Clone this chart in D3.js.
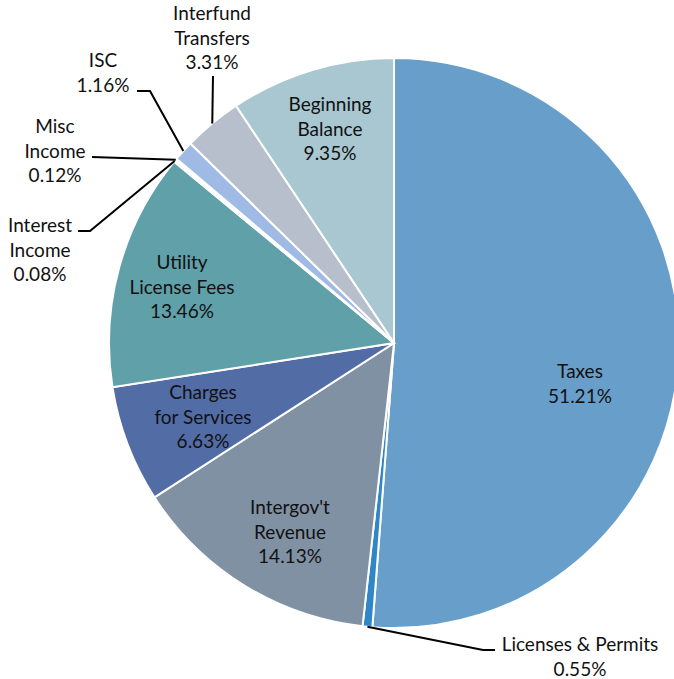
<!DOCTYPE html>
<html>
<head>
<meta charset="utf-8">
<script src="https://cdn.jsdelivr.net/npm/d3@7"></script>
<style>
  html, body { margin: 0; padding: 0; background: #fff; }
  svg { display: block; }
  text { font-family: Lato, "Open Sans", sans-serif; font-size: 19px; fill: #111; }
</style>
</head>
<body>
<div id="app"></div>
<script>
// slice names (clockwise from 12 o'clock), with shares in percent
const names = ["Taxes", "Licenses & Permits", "Intergov't Revenue", "Charges for Services",
  "Utility License Fees", "Interest Income", "Misc Income", "ISC", "Interfund Transfers", "Beginning Balance"];
const shares = [51.21, 0.55, 14.13, 6.63, 13.46, 0.08, 0.12, 1.16, 3.31, 9.35];
const colors = ["#689fca", "#2f86c8", "#8191a4", "#526ca6", "#5fa0a9", "#f2f2f2", "#f2f2f2",
  "#9fbae4", "#b8bfcc", "#a8c7d1"];

const width = 674, height = 679;
const cx = 394, cy = 343, radius = 285;

// label layout: lines of text, centre of first line, and leader bends
const labelLayout = {
  "Taxes":               { lines: ["Taxes"], x: 580, y: 373 },
  "Licenses & Permits":  { lines: ["Licenses & Permits"], x: 580, y: 646, leader: [[483, 650], [495, 650]] },
  "Intergov't Revenue":  { lines: ["Intergov't", "Revenue"], x: 290, y: 509 },
  "Charges for Services":{ lines: ["Charges", "for Services"], x: 203, y: 394 },
  "Utility License Fees":{ lines: ["Utility", "License Fees"], x: 182, y: 264 },
  "Interest Income":     { lines: ["Interest", "Income"], x: 40, y: 227, leader: [[90, 231], [78, 231]] },
  "Misc Income":         { lines: ["Misc", "Income"], x: 55, y: 128, leader: [[92, 157]] },
  "ISC":                 { lines: ["ISC"], x: 103, y: 62, leader: [[150, 91], [137, 91]] },
  "Interfund Transfers": { lines: ["Interfund", "Transfers"], x: 212, y: 15, leader: [[213, 76]] },
  "Beginning Balance":   { lines: ["Beginning", "Balance"], x: 330, y: 106 }
};
const lineGap = 24.5;

const data = names.map((n, i) => ({ name: n, value: shares[i], color: colors[i] }));

const svg = d3.select("#app").append("svg")
  .attr("width", width).attr("height", height);

const pie = d3.pie().sort(null).value(d => d.value);
const arc = d3.arc().innerRadius(0).outerRadius(radius);
const arcs = pie(data);

const g = svg.append("g").attr("transform", `translate(${cx},${cy})`);
g.selectAll("path")
  .data(arcs)
  .join("path")
    .attr("d", arc)
    .attr("fill", d => d.data.color)
    .attr("stroke", "#fff")
    .attr("stroke-width", 2);

// leader lines from the outer edge of small slices
arcs.forEach(a => {
  const lay = labelLayout[a.data.name];
  if (!lay.leader) return;
  const mid = (a.startAngle + a.endAngle) / 2;
  const start = [cx + radius * Math.sin(mid), cy - radius * Math.cos(mid)];
  svg.append("path")
    .attr("d", d3.line()([start, ...lay.leader]))
    .attr("fill", "none")
    .attr("stroke", "#000")
    .attr("stroke-width", 2);
});

// labels
arcs.forEach(a => {
  const lay = labelLayout[a.data.name];
  const lines = lay.lines.concat([a.data.value.toFixed(2) + "%"]);
  const t = svg.append("text")
    .attr("text-anchor", "middle")
    .attr("dominant-baseline", "middle");
  lines.forEach((l, i) => {
    t.append("tspan").attr("x", lay.x).attr("y", lay.y + i * lineGap).text(l);
  });
});
</script>
</body>
</html>
